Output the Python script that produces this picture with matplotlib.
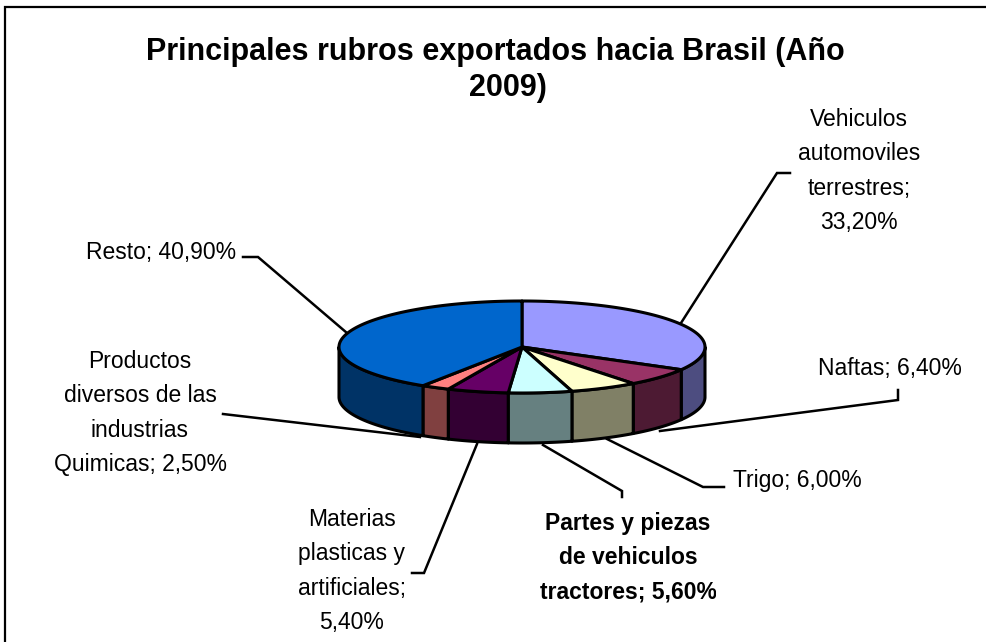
"""Principales rubros exportados hacia Brasil, drawn as a tilted 3D pie."""

import matplotlib

matplotlib.use("Agg")
import matplotlib.pyplot as plt
import numpy as np
from matplotlib.patches import Rectangle

plt.rcParams["font.family"] = ["Liberation Sans", "DejaVu Sans"]

title_lines = ["Principales rubros exportados hacia Brasil (Año", "2009)"]
categories = [
    "Vehiculos\nautomoviles\nterrestres;\n33,20%",
    "Naftas; 6,40%",
    "Trigo; 6,00%",
    "Partes y piezas\nde vehiculos\ntractores; 5,60%",
    "Materias\nplasticas y\nartificiales;\n5,40%",
    "Productos\ndiversos de las\nindustrias\nQuimicas; 2,50%",
    "Resto; 40,90%",
]
values = [33.2, 6.4, 6.0, 5.6, 5.4, 2.5, 40.9]
top_colors = ["#9999FF", "#993366", "#FFFFCC", "#CCFFFF", "#660066", "#FF8080", "#0066CC"]
side_colors = ["#4D4D80", "#4D1A33", "#808066", "#668080", "#330033", "#804040", "#003366"]

# layout, in pixels of the 987x642 picture
CX, CY, RX, RY, DEPTH = 522, 347, 183, 46, 50
title_pos = [(495, 52), (508, 88)]
label_pos = [(859, 171), (890, 368), (797, 481), (628, 558), (352, 571), (140, 413), (161, 253)]
label_clip = [None, None, None, 716, None, None, None]
leaders = [
    [(681, 323), (777, 173), (790, 173)],
    [(660, 431), (898, 400), (898, 390)],
    [(607, 439), (703, 487), (724, 487)],
    [(543, 445), (622, 491), (622, 497)],
    [(477, 444), (424, 573), (412, 573)],
    [(420, 437), (223, 414)],
    [(347, 333), (258, 257), (243, 257)],
]


def rim(a1, a2):
    """Points on the top ellipse, angles in degrees clockwise from 12 o'clock."""
    a = np.radians(np.linspace(a1, a2, max(2, int(a2 - a1) * 2)))
    return CX + RX * np.sin(a), CY - RY * np.cos(a)


fig = plt.figure(figsize=(9.87, 6.42), dpi=100)
ax = fig.add_axes([0, 0, 1, 1])
ax.set_xlim(0, 987)
ax.set_ylim(642, 0)
ax.axis("off")

ax.add_patch(Rectangle((5, 7), 990, 650, fc="white", ec="black", lw=1.6, zorder=0))

for path in leaders:
    xs, ys = zip(*path)
    ax.plot(xs, ys, color="black", lw=1.8, zorder=1, solid_joinstyle="miter")

edges = np.concatenate([[0], np.cumsum(values)]) * 3.6

# side walls, only the part of each slice on the front half of the ellipse
for a1, a2, col in zip(edges[:-1], edges[1:], side_colors):
    lo, hi = max(a1, 90), min(a2, 270)
    if hi <= lo:
        continue
    x, y = rim(lo, hi)
    ax.fill(
        np.r_[x, x[::-1]], np.r_[y, y[::-1] + DEPTH],
        fc=col, ec="black", lw=2.2, zorder=2, joinstyle="round",
    )

# top faces
for a1, a2, col in zip(edges[:-1], edges[1:], top_colors):
    x, y = rim(a1, a2)
    ax.fill(
        np.r_[CX, x], np.r_[CY, y],
        fc=col, ec="black", lw=2.2, zorder=3, joinstyle="round",
    )

for i, (label, (x, y), clip) in enumerate(zip(categories, label_pos, label_clip)):
    t = ax.text(
        x, y, label, ha="center", va="center", multialignment="center",
        fontsize=16.5, linespacing=1.63, zorder=4,
        fontweight="bold" if i == 3 else "normal",
    )
    if clip is not None:
        t.set_clip_path(Rectangle((0, 0), clip, 642, transform=ax.transData))
        t.set_clip_on(True)

for line, (x, y) in zip(title_lines, title_pos):
    ax.text(x, y, line, ha="center", va="center", fontsize=22, fontweight="bold")

fig.savefig("out.png", dpi=100)
